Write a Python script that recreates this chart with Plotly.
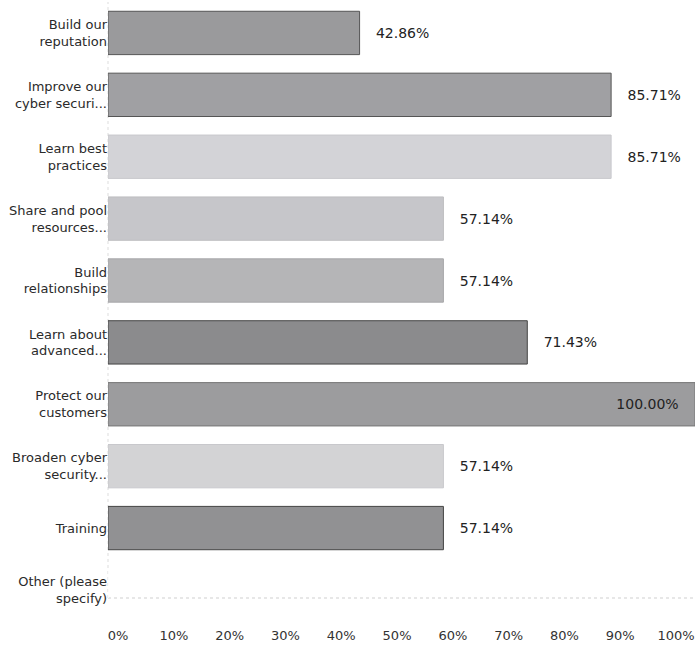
import plotly.graph_objects as go

categories = [
    "Build our<br>reputation",
    "Improve our<br>cyber securi...",
    "Learn best<br>practices",
    "Share and pool<br>resources...",
    "Build<br>relationships",
    "Learn about<br>advanced...",
    "Protect our<br>customers",
    "Broaden cyber<br>security...",
    "Training",
    "Other (please<br>specify)",
]
values = [42.86, 85.71, 85.71, 57.14, 57.14, 71.43, 100.00, 57.14, 57.14, 0.0]
bar_colors = ["#9a9a9c", "#a0a0a3", "#d3d3d7", "#c6c6ca", "#b5b5b7",
              "#8b8b8d", "#9c9c9e", "#d3d3d5", "#919193", "#ffffff"]
outline_colors = ["#555555", "#555555", "#c8c8cc", "#bdbdc0", "#a8a8aa",
                  "#444444", "#777777", "#c8c8cc", "#444444", "#ffffff"]
tick_vals = [0, 10, 20, 30, 40, 50, 60, 70, 80, 90, 100]
tick_text = ["0%", "10%", "20%", "30%", "40%", "50%", "60%", "70%", "80%", "90%", "100%"]

FONT = "DejaVu Sans, Lato, sans-serif"

texts = []
positions = []
for v in values:
    if v <= 0:
        texts.append("")
        positions.append("none")
    elif v >= 99.9:
        texts.append(f"{v:.2f}%   ")
        positions.append("inside")
    else:
        texts.append(f"   {v:.2f}%")
        positions.append("outside")

fig = go.Figure()
fig.add_trace(go.Bar(
    x=values,
    y=categories,
    orientation="h",
    marker=dict(color=bar_colors, line=dict(color=outline_colors, width=1)),
    text=texts,
    textposition=positions,
    insidetextanchor="end",
    textfont=dict(family=FONT, size=14, color="#222222"),
    cliponaxis=False,
    width=0.7,
    hoverinfo="x+y",
))
# invisible companion trace so the tick-label axis is drawn
fig.add_trace(go.Scatter(
    x=[tick_vals[0], tick_vals[-1]], y=[categories[0], categories[0]],
    xaxis="x2", mode="markers", marker=dict(opacity=0),
    hoverinfo="skip", showlegend=False,
))

fig.update_layout(
    width=695, height=654,
    margin=dict(l=108, r=0, t=2, b=56),
    paper_bgcolor="white", plot_bgcolor="white",
    showlegend=False,
    font=dict(family=FONT, size=13, color="#333333"),
    xaxis=dict(
        range=[0, 100],
        showticklabels=False, ticks="",
        showgrid=False, zeroline=False, showline=False,
        fixedrange=True,
    ),
    xaxis2=dict(
        overlaying="x", side="bottom", anchor="y",
        range=[-1.8, 103.4],
        tickvals=tick_vals, ticktext=tick_text,
        showgrid=False, zeroline=False, showline=False,
        ticks="outside", ticklen=25, tickcolor="rgba(0,0,0,0)",
        tickfont=dict(family=FONT, size=13, color="#333333"),
        fixedrange=True,
    ),
    yaxis=dict(
        categoryorder="array", categoryarray=categories,
        range=[9.13, -0.5],
        showgrid=False, zeroline=False, showline=False,
        ticks="", tickfont=dict(family=FONT, size=13, color="#2a2a2a"),
        ticklabelstandoff=0,
    ),
    shapes=[
        dict(type="line", xref="paper", yref="paper", x0=0, x1=1, y0=0, y1=0,
             line=dict(color="#cfcfcf", width=1, dash="dot"), layer="below"),
        dict(type="line", xref="paper", yref="paper", x0=0, x1=0, y0=0, y1=1,
             line=dict(color="#dddddd", width=1, dash="dot"), layer="below"),
    ],
)

fig.write_html("out.html")
